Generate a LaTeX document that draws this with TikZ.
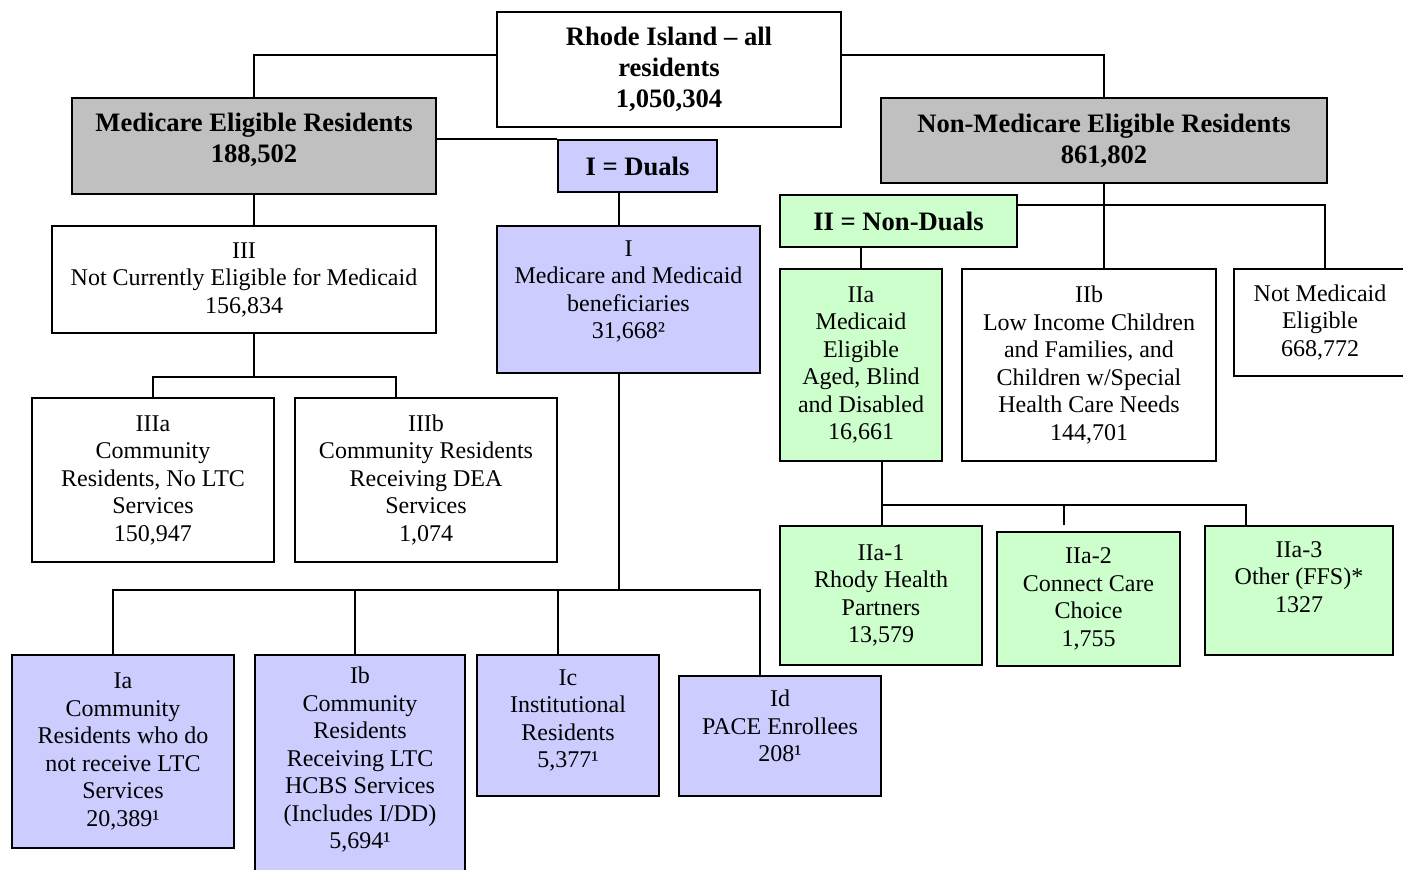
\documentclass[tikz,border=0pt]{standalone}
\usepackage{fontspec}
\setmainfont{Liberation Serif}
\definecolor{greybox}{HTML}{C0C0C0}
\definecolor{dualblue}{HTML}{CCCCFF}
\definecolor{nondualgreen}{HTML}{CCFFCC}
\begin{document}
\begin{tikzpicture}[x=0.5pt, y=-0.5pt,
  box/.style={draw, line width=1pt, align=center, inner sep=0pt, font=\fontsize{12}{13.75}\selectfont},
  headbox/.style={box, font=\fontsize{13.3}{15.5}\selectfont\bfseries},
  dualbox/.style={box, fill=dualblue},
  greenbox/.style={box, fill=nondualgreen},
  link/.style={line width=0.75pt},
  bus/.style={line width=1.4pt}]
\useasboundingbox (0,0) rectangle (1403,869);
\clip (0,0) rectangle (1403,869);
\node[headbox, fill=white, minimum width=172pt, minimum height=57.5pt] (top) at (669,69.5) {Rhode Island – all\\residents\\1,050,304};
\node[headbox, fill=greybox, minimum width=182pt, minimum height=48pt] (med) at (254,146) {Medicare Eligible Residents\\188,502\\[-7pt]\mbox{}};
\node[headbox, fill=greybox, minimum width=223pt, minimum height=42.5pt] (nonmed) at (1104,140.5) {Non-Medicare Eligible Residents\\861,802};
\node[headbox, fill=dualblue, minimum width=79.5pt, minimum height=26pt] (duals) at (637.5,166) {I = Duals};
\node[headbox, fill=nondualgreen, minimum width=118.5pt, minimum height=26pt] (nonduals) at (898.5,221) {II = Non-Duals};
\node[box, minimum width=192pt, minimum height=53.5pt] (III) at (244,279.5) {III\\Not Currently Eligible for Medicaid\\156,834};
\node[dualbox, minimum width=131.5pt, minimum height=73.5pt] (I) at (628.5,299.5) {I\\Medicare and Medicaid\\beneficiaries\\31,668²\\[-3.75pt]\mbox{}};
\node[greenbox, minimum width=81pt, minimum height=96pt] (IIa) at (861,365) {IIa\\Medicaid\\Eligible\\Aged, Blind\\and Disabled\\16,661};
\node[box, minimum width=127pt, minimum height=96pt] (IIb) at (1089,365) {IIb\\Low Income Children\\and Families, and\\Children w/Special\\Health Care Needs\\144,701};
\node[box, minimum width=86pt, minimum height=53.5pt] (notmed) at (1320,322.5) {Not Medicaid\\Eligible\\668,772};
\node[box, minimum width=121pt, minimum height=82pt] (IIIa) at (153,480) {IIIa\\Community\\Residents, No LTC\\Services\\150,947};
\node[box, minimum width=131pt, minimum height=82pt] (IIIb) at (426,480) {IIIb\\Community Residents\\Receiving DEA\\Services\\1,074};
\node[dualbox, minimum width=111pt, minimum height=96.5pt] (Ia) at (123,751.5) {Ia\\Community\\Residents who do\\not receive LTC\\Services\\20,389¹};
\node[dualbox, minimum width=105pt, minimum height=112.5pt] (Ib) at (360,767.5) {Ib\\Community\\Residents\\Receiving LTC\\HCBS Services\\(Includes I/DD)\\5,694¹\\[-4pt]\mbox{}};
\node[dualbox, minimum width=91pt, minimum height=70.5pt] (Ic) at (568,725.5) {Ic\\Institutional\\Residents\\5,377¹\\[-6.75pt]\mbox{}};
\node[dualbox, minimum width=101pt, minimum height=60pt] (Id) at (780,736) {Id\\PACE Enrollees\\208¹\\[-3.75pt]\mbox{}};
\node[greenbox, minimum width=101pt, minimum height=69.5pt] (IIa1) at (881,595.5) {IIa-1\\Rhody Health\\Partners\\13,579};
\node[greenbox, minimum width=91.5pt, minimum height=67pt] (IIa2) at (1088.5,599) {IIa-2\\Connect Care\\Choice\\1,755};
\node[greenbox, minimum width=94pt, minimum height=64.5pt] (IIa3) at (1299,590.5) {IIa-3\\Other (FFS)*\\1327\\\mbox{}};
\draw[link] ([yshift=7.25pt]top.west) -| (med.north);
\draw[link] ([yshift=7.25pt]top.east) -| (nonmed.north);
\draw[link] (med.east |- duals.north) -- (duals.north west);
\draw[link] (med.south) -- (med.south |- III.north);
\draw[link] ([xshift=-4.75pt]I.north) -- ([xshift=-4.75pt]I.north |- duals.south);
\draw[link] (IIa.north) -- (IIa.north |- nonduals.south);
\draw[link] (nonmed.south) -- (nonmed.south |- IIb.north);
\coordinate (fork3) at (254,377);
\draw[link] (III.south -| fork3) -- (fork3);
\draw[bus] (IIIa.north) |- (fork3) -| ([xshift=-15pt]IIIb.north);
\coordinate (fork1) at (619,590);
\draw[link] ([xshift=-4.75pt]I.south) -- (fork1);
\draw[link] ([xshift=-5pt]Ia.north) |- (fork1) -| ([xshift=-10pt]Id.north);
\draw[link] ([xshift=-2.5pt]Ib.north) -- ([xshift=-2.5pt]Ib.north |- fork1);
\draw[link] ([xshift=-5pt]Ic.north) -- ([xshift=-5pt]Ic.north |- fork1);
\coordinate (fork2) at (1104,205);
\draw[bus] (nonduals.east |- fork2) -- (fork2);
\draw[link] (fork2) -| ([xshift=2.5pt]notmed.north);
\coordinate (fork4) at (882,505);
\draw[link] ([xshift=10.5pt]IIa.south) -- (fork4) -| ([xshift=-26.5pt]IIa3.north);
\draw[link] (fork4) -- (fork4 |- IIa1.north);
\draw[link] ([xshift=-12.25pt]IIa2.north |- fork4) -- ([xshift=-12.25pt]IIa2.north |- IIa1.north);
\end{tikzpicture}
\end{document}
